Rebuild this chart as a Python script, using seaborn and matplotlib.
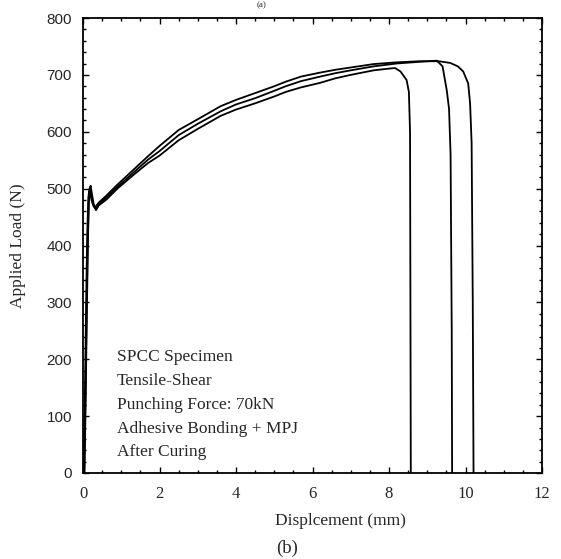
import matplotlib
matplotlib.use("Agg")
import matplotlib.pyplot as plt
import seaborn as sns
import numpy as np
from matplotlib.ticker import MultipleLocator

# ---- data ----
xa = [0.03, 0.06, 0.09, 0.12, 0.15, 0.18, 0.22, 0.26, 0.30, 0.34, 0.40, 0.6, 0.9, 1.3, 1.7, 2.0, 2.5, 3.0, 3.6,
      4.0, 4.5, 5.0, 5.3, 5.7, 6.2, 6.6, 7.0, 7.6, 8.0, 8.16, 8.3, 8.46, 8.52, 8.55, 8.56, 8.57]
ya = [0, 120, 260, 400, 480, 497, 490, 475, 468, 462, 470, 480, 500, 523, 545, 558, 585, 605, 628,
      639, 650, 662, 670, 678, 686, 694, 700, 708, 711, 712, 706, 691, 670, 600, 300, 0]

xb = [0.02, 0.05, 0.08, 0.11, 0.14, 0.17, 0.20, 0.24, 0.28, 0.32, 0.36, 0.42, 0.6, 0.9, 1.3, 1.7, 2.0, 2.5, 3.0, 3.6,
      4.0, 4.5, 5.0, 5.3, 5.7, 6.2, 6.6, 7.0, 7.6, 8.2, 8.8, 9.25, 9.4, 9.51, 9.57, 9.61, 9.64, 9.65]
yb = [0, 140, 290, 420, 485, 500, 505, 488, 472, 468, 465, 472, 484, 503, 527, 551, 566, 594, 614, 636,
      648, 659, 672, 680, 689, 697, 703, 708, 715, 720, 723, 725, 715, 673, 640, 560, 250, 0]

xc = [0.04, 0.07, 0.10, 0.13, 0.16, 0.19, 0.23, 0.27, 0.31, 0.35, 0.42, 0.6, 0.9, 1.3, 1.7, 2.0, 2.5, 3.0, 3.6,
      4.0, 4.5, 5.0, 5.3, 5.7, 6.2, 6.6, 7.0, 7.6, 8.2, 8.8, 9.3, 9.6, 9.8, 9.94, 10.07, 10.12, 10.16, 10.19, 10.21]
yc = [0, 130, 280, 410, 495, 490, 478, 470, 466, 470, 476, 487, 507, 532, 557, 575, 603, 622, 645,
      656, 668, 680, 688, 697, 704, 709, 713, 719, 722, 724, 724, 721, 715, 706, 685, 650, 580, 300, 0]

x_ticks = [0, 2, 4, 6, 8, 10, 12]
y_ticks = [0, 100, 200, 300, 400, 500, 600, 700, 800]
notes = ["SPCC Specimen", "Tensile-Shear", "Punching Force: 70kN",
         "Adhesive Bonding + MPJ", "After Curing"]

sns.set_style("ticks")
plt.rcParams['font.family'] = ['Liberation Serif', 'DejaVu Serif']

fig = plt.figure(figsize=(5.61, 5.59), dpi=100)
ax = fig.add_axes([83/561, 1-473/559, (542-83)/561, (473-18)/559])

for xs, ys in [(xa, ya), (xb, yb), (xc, yc)]:
    sns.lineplot(x=np.array(xs), y=np.array(ys), sort=False, estimator=None,
                 color='black', linewidth=1.3, ax=ax)

ax.set_xlim(0, 12)
ax.set_ylim(0, 800)
ax.set_xticks(x_ticks)
ax.set_yticks(y_ticks)
ax.xaxis.set_minor_locator(MultipleLocator(0.5))
ax.yaxis.set_minor_locator(MultipleLocator(20))
ax.tick_params(which='both', direction='in', top=True, right=True, width=1.0, color='black')
ax.tick_params(which='major', length=4.5)
ax.tick_params(which='minor', length=2.5)
ax.tick_params(axis='x', which='major', pad=9, labelsize=12)
ax.tick_params(axis='y', which='major', pad=8, labelsize=11)
for lab in ax.get_yticklabels():
    lab.set_family(['Liberation Sans', 'DejaVu Sans'])
for s in ax.spines.values():
    s.set_linewidth(1.3)
    s.set_color('black')

ax.set_xlabel("Displcement (mm)", fontsize=12.5)
ax.xaxis.set_label_coords((340-83)/459, -(521-473)/455, transform=ax.transAxes)
ax.xaxis.label.set_va('center')
ax.set_ylabel("Applied Load (N)", fontsize=12.5)
ax.yaxis.set_label_coords(-(83-18)/459, 0.5)
ax.yaxis.label.set_va('center')

base = [361, 385, 409, 433, 456]
for t, b in zip(notes, base):
    ax.text((117-83)/459, (473-b)/455, t, transform=ax.transAxes,
            fontsize=12.5, ha='left', va='baseline')

fig.text(287/561, (559-548)/559, "(b)", fontsize=13.5, ha='center', va='center')
fig.text(262/561, 1 - 1/559, "(a)", fontsize=6.5, ha='center', va='top')

fig.savefig("out.png", dpi=100)
